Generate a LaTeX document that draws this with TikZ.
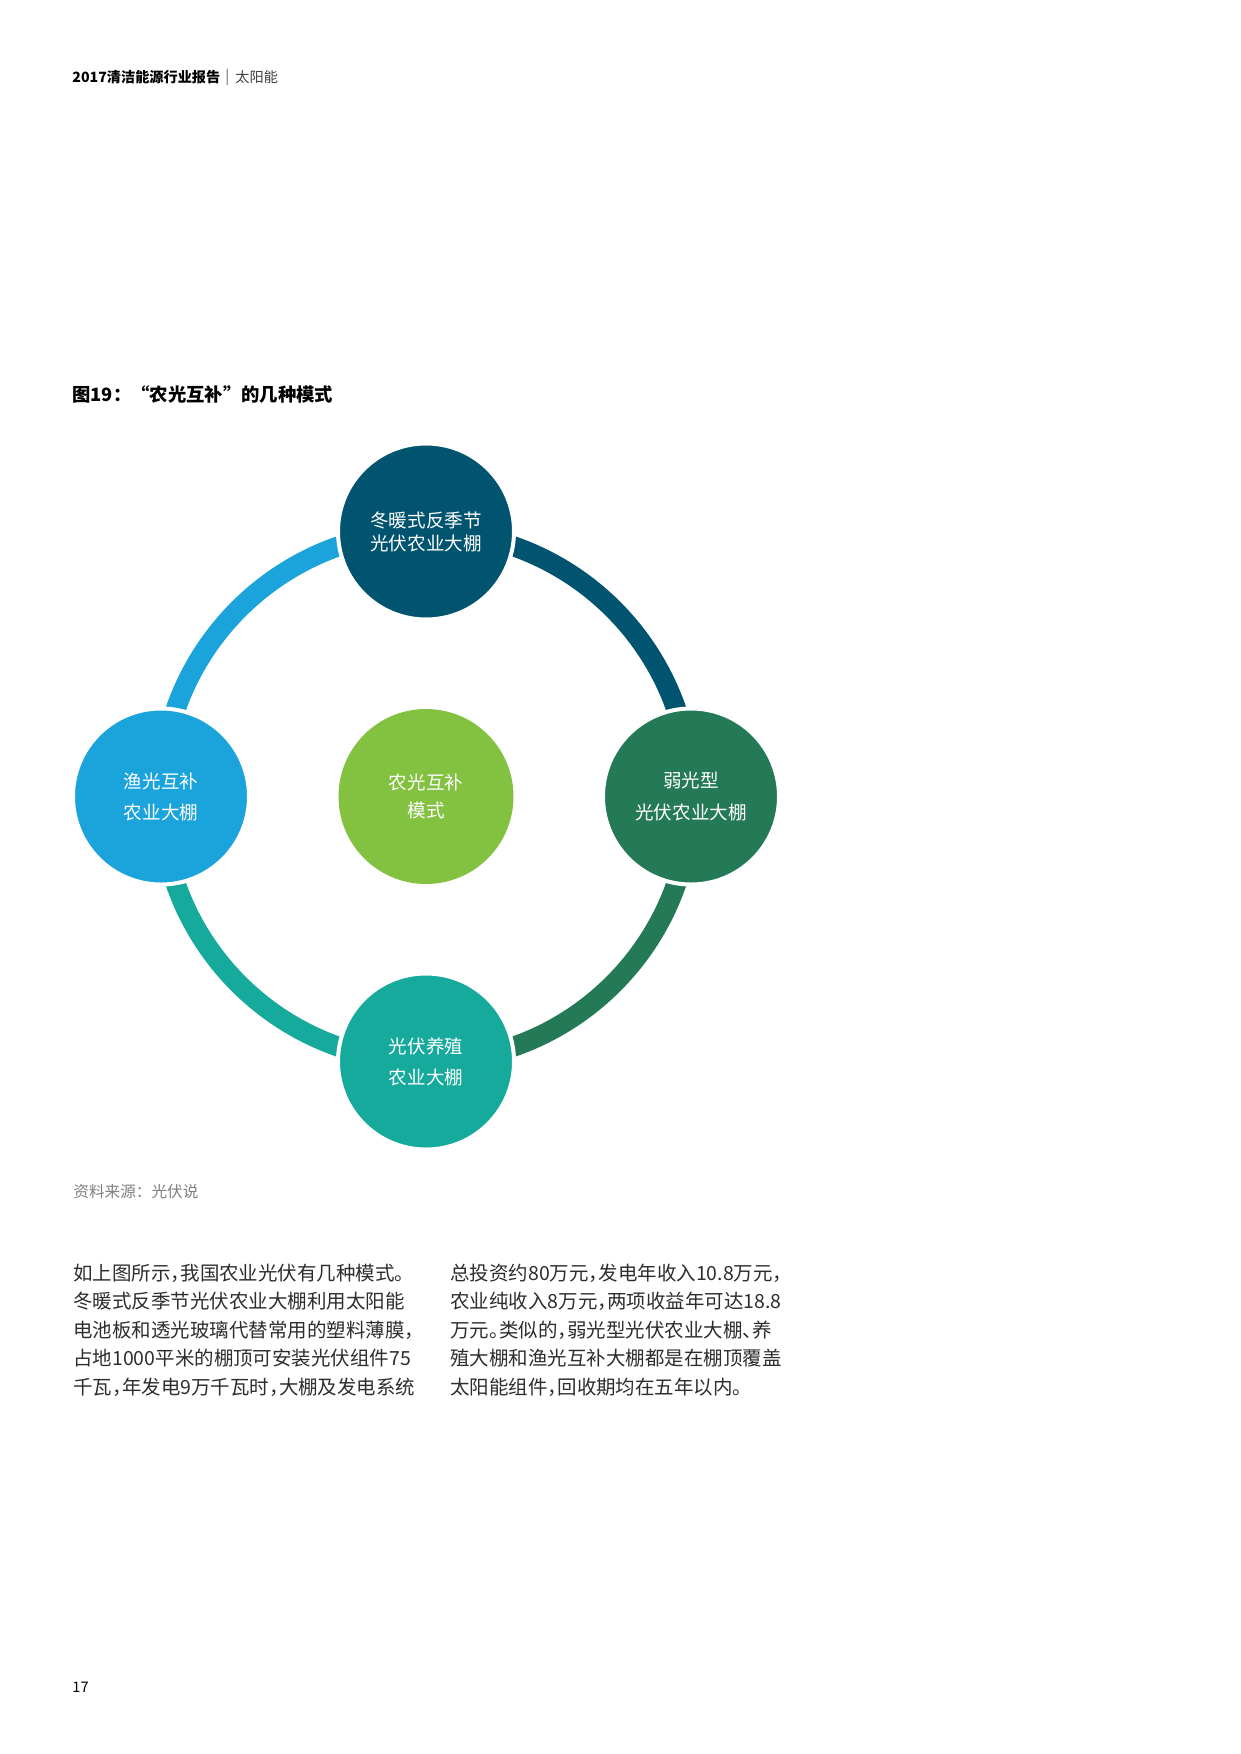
\documentclass[tikz,border=0pt]{standalone}
\usepackage{fontspec}
\setmainfont{Noto Sans CJK SC}
\newfontfamily\haltfont[RawFeature=+halt]{Noto Sans CJK SC}
\usetikzlibrary{backgrounds}
\definecolor{cTop}{RGB}{0,84,111}
\definecolor{cLeft}{RGB}{27,163,220}
\definecolor{cCenter}{RGB}{131,194,65}
\definecolor{cRight}{RGB}{36,122,86}
\definecolor{cBottom}{RGB}{22,170,157}
\definecolor{bodygray}{RGB}{45,45,45}
\begin{document}
\begin{tikzpicture}[x=0.48006pt,y=-0.48006pt,
  ringarc/.style={line width=9.6pt},
  bubble/.style={circle,draw=white,line width=1.92pt,minimum size=84.5pt,inner sep=0pt,
    text=white,align=center,font=\fontsize{8.9pt}{#1}\selectfont},
  bodyline/.style={anchor=west,inner sep=0pt,text=bodygray,font=\haltfont\fontsize{9.35pt}{11pt}\selectfont},
  plain/.style={anchor=west,inner sep=0pt}]
\useasboundingbox (0,0) rectangle (1240,1754);

% header
\node[plain,font=\bfseries\fontsize{6.8pt}{8pt}\selectfont] (hd) at (72,77) {2017清洁能源行业报告};
\node[plain,text=black!60,font=\fontsize{7pt}{8pt}\selectfont] (sep) at (225,77) {|};
\node[plain,text=black!75,font=\fontsize{6.8pt}{8pt}\selectfont] (hd2) at (235,77) {太阳能};

% title
\node[plain,font=\bfseries\fontsize{8.8pt}{11pt}\selectfont] (title) at (72,394) {图19：“农光互补”的几种模式};

% circles
\node[bubble=11pt,fill=cTop] (T) at (426,531.5) {冬暖式反季节\\光伏农业大棚};
\node[bubble=14.9pt,fill=cLeft] (L) at (161,796.5) {渔光互补\\农业大棚};
\node[bubble=15.8pt,fill=cRight] (R) at (691,796.5) {弱光型\\光伏农业大棚};
\node[bubble=14.9pt,fill=cBottom] (B) at (426,1061.5) {光伏养殖\\农业大棚};
\node[circle,fill=cCenter,minimum size=84pt,inner sep=0pt,text=white,align=center,
  font=\fontsize{8.9pt}{13.4pt}\selectfont] (C) at (426,796.5) {农光互补\\模式};

\begin{scope}[on background layer]
  \fill[white] (0,0) rectangle (1240,1754);
  \draw[ringarc,cLeft] (L.center) arc[start angle=180,end angle=90,radius=127.2pt];
  \draw[ringarc,cTop] (T.center) arc[start angle=90,end angle=0,radius=127.2pt];
  \draw[ringarc,cRight] (R.center) arc[start angle=0,end angle=-90,radius=127.2pt];
  \draw[ringarc,cBottom] (B.center) arc[start angle=270,end angle=180,radius=127.2pt];
\end{scope}

% source
\node[plain,text=black!50,font=\fontsize{7.5pt}{9pt}\selectfont] (src) at (73,1192) {资料来源：光伏说};

% body left
\node[bodyline] (l1) at (73,1273) {如上图所示，我国农业光伏有几种模式。};
\node[bodyline] (l2) at (73,1301.5) {冬暖式反季节光伏农业大棚利用太阳能};
\node[bodyline] (l3) at (73,1330) {电池板和透光玻璃代替常用的塑料薄膜，};
\node[bodyline] (l4) at (73,1358) {占地1000平米的棚顶可安装光伏组件75};
\node[bodyline] (l5) at (73,1387) {千瓦，年发电9万千瓦时，大棚及发电系统};

% body right
\node[bodyline] (r1) at (450,1273) {总投资约80万元，发电年收入10.8万元，};
\node[bodyline] (r2) at (450,1301.5) {农业纯收入8万元，两项收益年可达18.8};
\node[bodyline] (r3) at (450,1330) {万元。类似的，弱光型光伏农业大棚、养};
\node[bodyline] (r4) at (450,1358) {殖大棚和渔光互补大棚都是在棚顶覆盖};
\node[bodyline] (r5) at (450,1387) {太阳能组件，回收期均在五年以内。};

% page number
\node[plain,font=\fontsize{7pt}{8pt}\selectfont] (pg) at (72,1687) {17};
\end{tikzpicture}
\end{document}
